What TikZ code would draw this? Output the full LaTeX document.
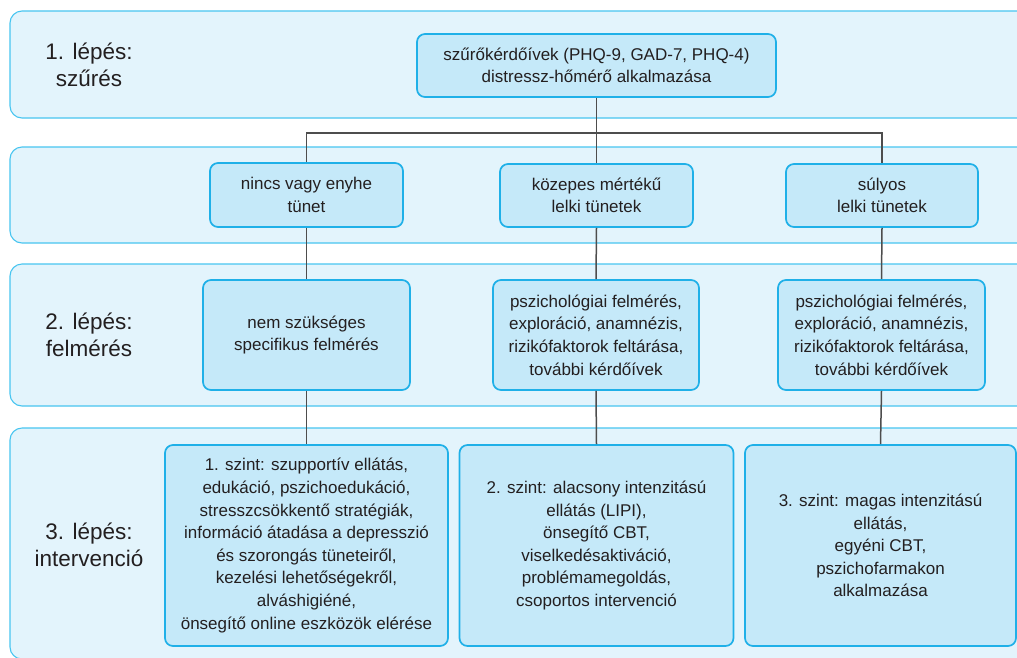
\documentclass[tikz,border=0pt]{standalone}
\usepackage{fontspec}
\setmainfont{Liberation Sans}
\definecolor{bandfill}{HTML}{E3F4FC}
\definecolor{bandline}{HTML}{48C5F0}
\definecolor{boxfill}{HTML}{C5E9F9}
\definecolor{boxline}{HTML}{1FB0E8}
\definecolor{txt}{HTML}{231F20}
\definecolor{wire}{HTML}{4D4D4D}
\newcommand{\boxfont}{\fontsize{17}{22.6}\selectfont}
\newcommand{\stepfont}{\fontsize{22.5}{26.5}\selectfont}
\tikzset{
  band/.style={draw=bandline, fill=bandfill, line width=1.1pt, rounded corners=12pt},
  box/.style={draw=boxline, fill=boxfill, line width=1.7pt, rounded corners=8pt,
    align=center, inner sep=0pt, text=txt, font=\boxfont},
  steplabel/.style={align=center, inner sep=0pt, text=txt, font=\stepfont},
  wireline/.style={draw=wire, line width=1.5pt}
}
\begin{document}
\begin{tikzpicture}[x=1pt, y=-1pt]
\clip (0,0) rectangle (1017,657);
\fill[white] (0,0) rectangle (1017,657);

% horizontal bands of the four stages
\draw[band] (10,11) rectangle (1035,118);
\draw[band] (10,147) rectangle (1035,243);
\draw[band] (10,264) rectangle (1035,406);
\draw[band] (10,428) rectangle (1035,659);

% stage labels
\node[steplabel] (s1) at (89,65) {1. lépés:\\szűrés};
\node[steplabel] (s2) at (89,335) {2. lépés:\\felmérés};
\node[steplabel] (s3) at (89,545) {3. lépés:\\intervenció};

% screening
\node[box, minimum width=359pt, minimum height=63pt] (top) at (596.5,65.5)
  {szűrőkérdőívek (PHQ-9, GAD-7, PHQ-4)\\distressz-hőmérő alkalmazása};

% symptom severity
\node[box, minimum width=193pt, minimum height=64pt] (sevA) at (306.5,195)
  {nincs vagy enyhe\\tünet};
\node[box, minimum width=193pt, minimum height=63pt] (sevB) at (596.5,195.5)
  {közepes mértékű\\lelki tünetek};
\node[box, minimum width=192pt, minimum height=63pt] (sevC) at (882,195.5)
  {súlyos\\lelki tünetek};

% assessment
\node[box, minimum width=207pt, minimum height=110pt] (asA) at (306.5,335)
  {nem szükséges\\specifikus felmérés};
\node[box, minimum width=206pt, minimum height=110pt] (asB) at (596,335)
  {pszichológiai felmérés,\\exploráció, anamnézis,\\rizikófaktorok feltárása,\\további kérdőívek};
\node[box, minimum width=207pt, minimum height=110pt] (asC) at (881.5,335)
  {pszichológiai felmérés,\\exploráció, anamnézis,\\rizikófaktorok feltárása,\\további kérdőívek};

% intervention levels
\node[box, minimum width=283pt, minimum height=201pt] (inA) at (306.5,545.5)
  {1. szint: szupportív ellátás,\\edukáció, pszichoedukáció,\\stresszcsökkentő stratégiák,\\információ átadása a depresszió\\és szorongás tüneteiről,\\kezelési lehetőségekről,\\alváshigiéné,\\önsegítő online eszközök elérése};
\node[box, minimum width=274pt, minimum height=201pt] (inB) at (596.5,545.5)
  {2. szint: alacsony intenzitású\\ellátás (LIPI),\\önsegítő CBT,\\viselkedésaktiváció,\\problémamegoldás,\\csoportos intervenció};
\node[box, minimum width=271pt, minimum height=201pt] (inC) at (880.5,545.5)
  {3. szint: magas intenzitású\\ellátás,\\egyéni CBT,\\pszichofarmakon\\alkalmazása};

% connectors
\coordinate (hub) at (596.5,133);
\draw[wireline] (top.south) -- (hub);
\draw[wireline] (sevA.north) |- (hub) -| (sevC.north);
\draw[wireline] (hub) -- (sevB.north);
\draw[wireline] (sevA.south) -- (asA.north);
\draw[wireline] (sevB.south) -- (asB.north);
\draw[wireline] (sevC.south) -- (asC.north);
\draw[wireline] (asA.south) -- (inA.north);
\draw[wireline] (asB.south) -- (inB.north);
\draw[wireline] (asC.south) -- (inC.north);
\end{tikzpicture}
\end{document}
